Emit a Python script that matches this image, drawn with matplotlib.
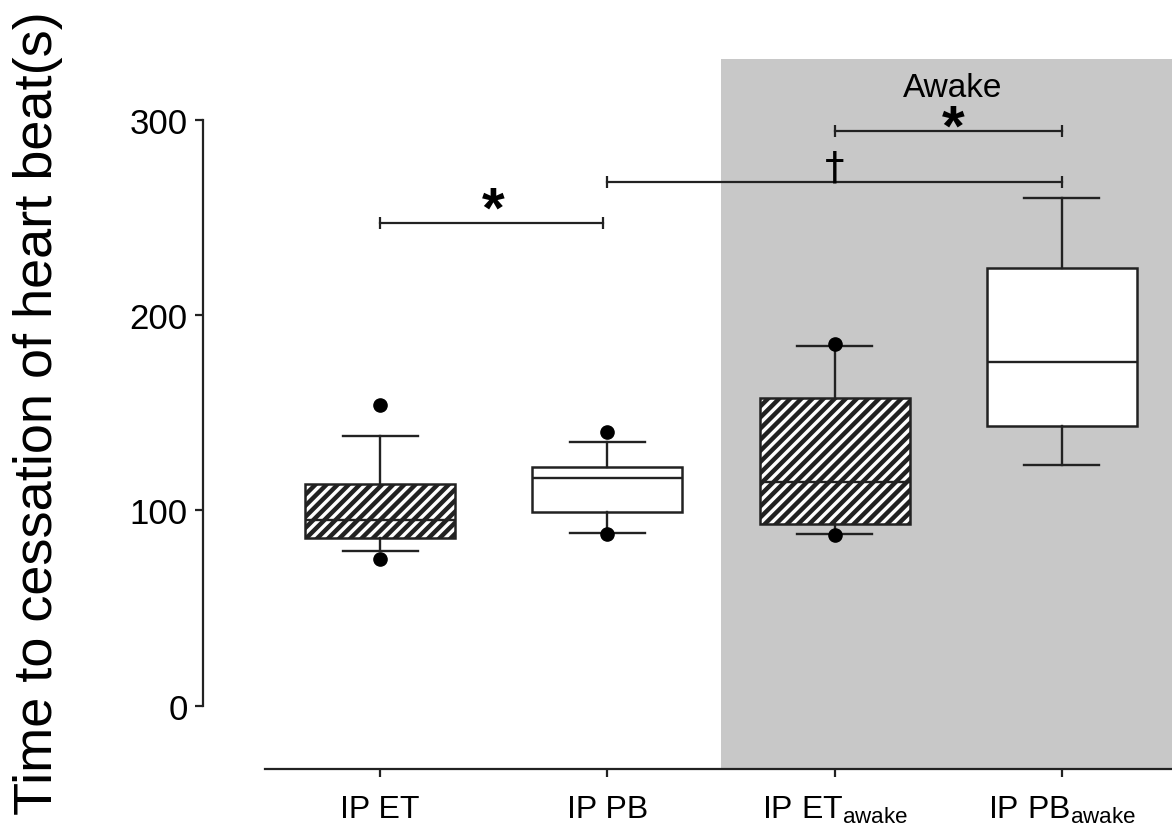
import numpy as np
import matplotlib
matplotlib.use("Agg")
import matplotlib.pyplot as plt

plt.rcParams['font.family'] = ['Liberation Sans', 'DejaVu Sans']
plt.rcParams['mathtext.fontset'] = 'custom'
plt.rcParams['mathtext.rm'] = 'Liberation Sans'
plt.rcParams['mathtext.it'] = 'Liberation Sans'
plt.rcParams['hatch.linewidth'] = 3.2

# Daten
groups = ['IP ET', 'IP PB', r'IP ET$_{\mathrm{awake}}$', r'IP PB$_{\mathrm{awake}}$']
whislo = [79, 88.5, 88, 123]
q1 = [86, 99, 93, 143]
med = [95, 116.5, 114.5, 176]
q3 = [113.5, 122, 157.5, 224]
whishi = [138, 135, 184, 260]
fliers = [[154, 75], [140, 88], [185, 87.5], []]
hatched = [True, False, True, False]

yticks = [0, 100, 200, 300]
# Signifikanz: (links, rechts, hoehe)
sig_bars = [(1.0, 1.98, 247), (2.0, 4.0, 268), (3.0, 4.0, 294)]
# Symbole: (x, balkenhoehe, symbol, versatz in pt)
sig_marks = [(1.5, 247, '*', -11), (3.0, 268, '\u2020', -3.5), (3.52, 294, '*', -18.5)]

fig = plt.figure(figsize=(11.72, 8.28), dpi=100)
ax = fig.add_axes([0.2261, 0.0700, 0.7739, 0.8575])

# grauer Bereich "Awake"
ax.axvspan(2.5, 4.6, color='#c8c8c8', lw=0, zorder=0)
ax.text(3.52, 312, 'Awake', ha='center', va='baseline', fontsize=24)

stats = []
for i in range(len(groups)):
    stats.append({'whislo': whislo[i], 'q1': q1[i], 'med': med[i], 'q3': q3[i],
                  'whishi': whishi[i], 'fliers': fliers[i], 'label': groups[i]})

lc = '#222222'
bp = ax.bxp(stats, positions=[1, 2, 3, 4], widths=0.66, patch_artist=True,
            boxprops=dict(facecolor='white', edgecolor=lc, linewidth=1.8),
            medianprops=dict(color=lc, linewidth=1.7),
            whiskerprops=dict(color=lc, linewidth=1.7),
            capprops=dict(color=lc, linewidth=1.7),
            flierprops=dict(marker='o', markerfacecolor='black', markeredgecolor='black',
                            markersize=9.5, linestyle='none'))
for box, h in zip(bp['boxes'], hatched):
    box.set_zorder(2)
    if h:
        box.set_hatch('///')
for f in bp['fliers']:
    f.set_zorder(4)

# Signifikanzbalken
for x0, x1, y in sig_bars:
    ax.plot([x0, x1], [y, y], color=lc, lw=1.6, zorder=3)
    ax.plot([x0, x1], [y, y], linestyle='none', marker='|', color=lc,
            markersize=9, markeredgewidth=1.6, zorder=3)
for x, y, sym, off in sig_marks:
    if sym == '*':
        ax.annotate(sym, (x, y), xytext=(0, off), textcoords='offset points',
                    ha='center', va='bottom', fontsize=42, fontweight='bold')
    else:
        ax.annotate(sym, (x, y), xytext=(0, off), textcoords='offset points',
                    ha='center', va='bottom', fontsize=28, family='DejaVu Sans')

ax.set_xlim(0.494, 4.484)
ax.set_ylim(-32.5, 331)

ax.set_yticks(yticks)
ax.set_xticks([1, 2, 3, 4])
ax.set_xticklabels(groups)

for s in ['top', 'right']:
    ax.spines[s].set_visible(False)
ax.spines['left'].set_position(('outward', 44.6))
ax.spines['left'].set_bounds(0, 300)
for s in ['left', 'bottom']:
    ax.spines[s].set_color(lc)
    ax.spines[s].set_linewidth(1.6)
ax.tick_params(axis='y', labelsize=25, length=6, width=1.6, color=lc, pad=5)
ax.tick_params(axis='x', labelsize=23, length=6, width=1.6, color=lc, pad=12)

fig.text(0.011, 0.501, 'Time to cessation of heart beat(s)', rotation=90,
         ha='left', va='center', fontsize=39)

fig.savefig('out.png', dpi=100)
